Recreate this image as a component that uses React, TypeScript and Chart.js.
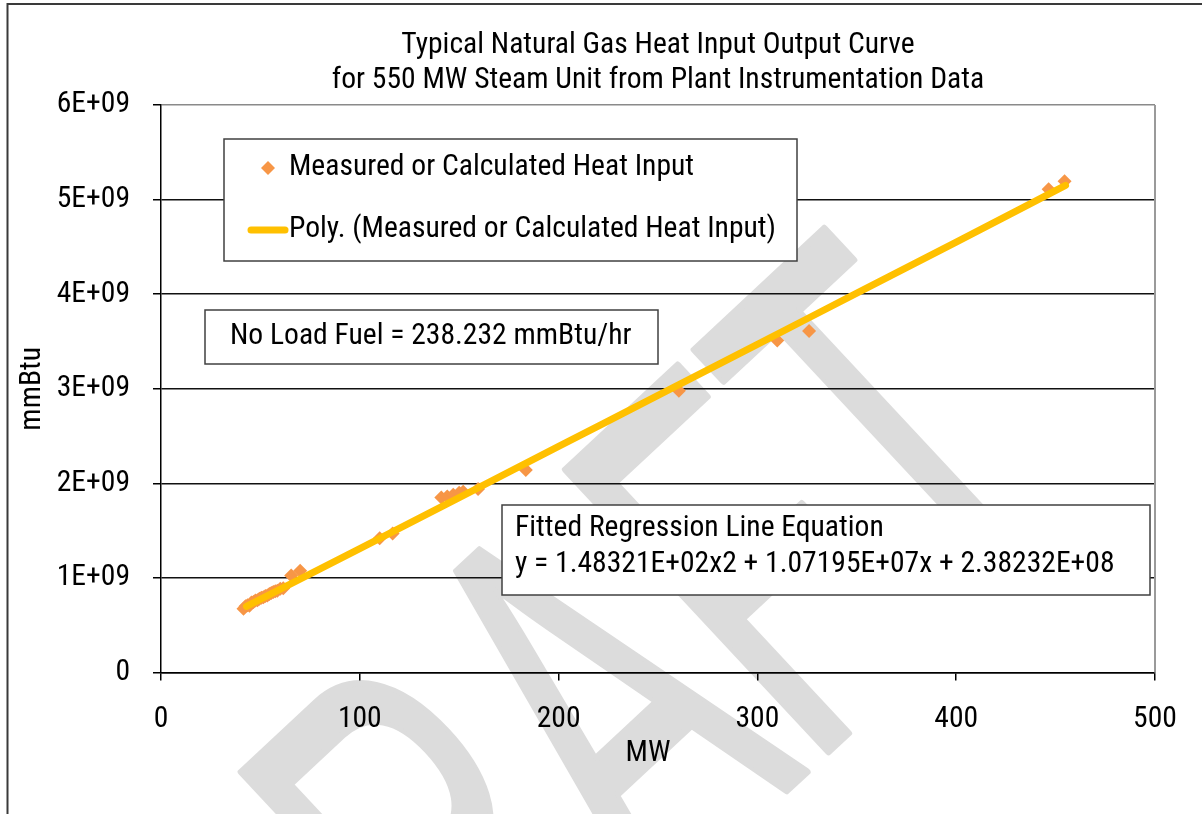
import React, { useEffect, useRef } from "react";
import { Chart, registerables } from "chart.js";

Chart.register(...registerables);

const FONT = "'Roboto Condensed', 'Liberation Sans Narrow', 'Arial Narrow', sans-serif";

const TITLE_LINES = [
  "Typical Natural Gas Heat Input Output Curve",
  "for 550 MW Steam Unit from Plant Instrumentation Data",
];
const X_AXIS_TITLE = "MW";
const Y_AXIS_TITLE = "mmBtu";

const X_TICKS = [0, 100, 200, 300, 400, 500];
const X_TICK_LABELS = ["0", "100", "200", "300", "400", "500"];
const Y_TICKS = [0, 1e9, 2e9, 3e9, 4e9, 5e9, 6e9];
const Y_TICK_LABELS = ["0", "1E+09", "2E+09", "3E+09", "4E+09", "5E+09", "6E+09"];

const SCATTER_LABEL = "Measured or Calculated Heat Input";
const TREND_LABEL = "Poly. (Measured or Calculated Heat Input)";

// Measured points (MW, mmBtu)
const MEASURED_MW = [
  41.5, 42.5, 43.5, 44.5, 45.5, 46.5, 47.5, 48.5, 49.5, 50.5, 51.5, 52.5, 53.5,
  54.5, 55.5, 56.5, 57.5, 58.5, 60, 61.5, 65.5, 70, 110, 116.5, 141, 144, 147,
  150, 152, 159.5, 183.5, 260.5, 310, 326, 446.5, 454.5,
];
const MEASURED_HEAT = [
  0.675e9, 0.7e9, 0.71e9, 0.705e9, 0.74e9, 0.745e9, 0.76e9, 0.765e9, 0.78e9,
  0.79e9, 0.795e9, 0.81e9, 0.815e9, 0.83e9, 0.84e9, 0.85e9, 0.86e9, 0.865e9,
  0.885e9, 0.89e9, 1.025e9, 1.075e9, 1.42e9, 1.47e9, 1.85e9, 1.86e9, 1.88e9,
  1.9e9, 1.91e9, 1.94e9, 2.14e9, 2.98e9, 3.51e9, 3.61e9, 5.11e9, 5.195e9,
];

// Polynomial trendline
const TREND_MW = [43, 100, 150, 200, 250, 300, 350, 400, 455];
const TREND_HEAT = [0.7e9, 1.31e9, 1.85e9, 2.39e9, 2.93e9, 3.47e9, 4.01e9, 4.55e9, 5.15e9];

const NO_LOAD_TEXT = "No Load Fuel = 238.232 mmBtu/hr";
const EQUATION_LINES = [
  "Fitted Regression Line Equation",
  "y = 1.48321E+02x2 + 1.07195E+07x + 2.38232E+08",
];
const WATERMARK = "DRAFT";

const SCATTER_COLOR = "#F79646";
const TREND_COLOR = "#FFC000";
const TEXT_SIZE = 29.6;

function boxRect(ctx: CanvasRenderingContext2D, x: number, y: number, w: number, h: number) {
  ctx.save();
  ctx.fillStyle = "#ffffff";
  ctx.fillRect(x, y, w, h);
  ctx.strokeStyle = "#404040";
  ctx.lineWidth = 1.5;
  ctx.strokeRect(x, y, w, h);
  ctx.restore();
}

const decorPlugin = {
  id: "decor",
  beforeDraw(chart: any) {
    const ctx: CanvasRenderingContext2D = chart.ctx;
    ctx.save();
    ctx.fillStyle = "#ffffff";
    ctx.fillRect(0, 0, chart.width, chart.height);

    // watermark (rotated, vertically stretched text)
    ctx.save();
    ctx.transform(0.753, -0.702, 1.232, 1.321, 315.5, 1229.8);
    ctx.font = "310px 'Liberation Sans', Arial, sans-serif";
    ctx.fillStyle = "#dcdcdc";
    ctx.strokeStyle = "#dcdcdc";
    ctx.lineWidth = 4;
    ctx.lineJoin = "round";
    ctx.textBaseline = "alphabetic";
    ctx.textAlign = "left";
    ctx.fillText(WATERMARK, 0, 0);
    ctx.strokeText(WATERMARK, 0, 0);
    ctx.restore();

    // outer frame
    ctx.strokeStyle = "#3a3a3a";
    ctx.lineWidth = 2;
    ctx.beginPath();
    ctx.moveTo(7.5, chart.height + 5);
    ctx.lineTo(7.5, 4);
    ctx.lineTo(chart.width + 5, 4);
    ctx.stroke();
    ctx.restore();
  },
  beforeDatasetsDraw(chart: any) {
    const ctx: CanvasRenderingContext2D = chart.ctx;
    const a = chart.chartArea;
    ctx.save();
    ctx.strokeStyle = "#9a9a9a";
    ctx.lineWidth = 2;
    ctx.beginPath();
    ctx.moveTo(a.right, a.top);
    ctx.lineTo(a.right, a.bottom);
    ctx.stroke();
    ctx.restore();
  },
  afterDraw(chart: any) {
    const ctx: CanvasRenderingContext2D = chart.ctx;
    const a = chart.chartArea;
    const ds = chart.data.datasets;
    ctx.save();
    ctx.font = `${TEXT_SIZE}px ${FONT}`;
    ctx.fillStyle = "#000";
    ctx.textBaseline = "middle";
    ctx.textAlign = "left";

    // legend
    boxRect(ctx, 224, 139, 573, 122);
    ctx.save();
    ctx.fillStyle = ds[0].backgroundColor;
    ctx.beginPath();
    ctx.moveTo(268, 161);
    ctx.lineTo(275, 168);
    ctx.lineTo(268, 175);
    ctx.lineTo(261, 168);
    ctx.closePath();
    ctx.fill();
    ctx.strokeStyle = ds[1].borderColor;
    ctx.lineWidth = 7;
    ctx.lineCap = "round";
    ctx.beginPath();
    ctx.moveTo(251, 230);
    ctx.lineTo(285, 230);
    ctx.stroke();
    ctx.restore();
    ctx.fillText(ds[0].label, 289, 168);
    ctx.fillText(ds[1].label, 289, 230);

    // no load box
    boxRect(ctx, 205, 310, 453, 54);
    ctx.fillText(NO_LOAD_TEXT, 230, 337);

    // equation box
    boxRect(ctx, 502, 505, 648, 90);
    ctx.fillText(EQUATION_LINES[0], 515, 529);
    ctx.fillText(EQUATION_LINES[1], 515, 565);

    // axis titles
    ctx.textAlign = "center";
    ctx.fillText(X_AXIS_TITLE, 648, 754);
    ctx.translate(33, (a.top + a.bottom) / 2);
    ctx.rotate(-Math.PI / 2);
    ctx.fillText(Y_AXIS_TITLE, 0, 0);
    ctx.restore();
  },
};

export default function App() {
  const ref = useRef<HTMLCanvasElement>(null);

  useEffect(() => {
    const canvas = ref.current;
    if (!canvas) return;
    const chart = new Chart(canvas, {
      data: {
        datasets: [
          {
            type: "scatter",
            label: SCATTER_LABEL,
            data: MEASURED_MW.map((x, i) => ({ x, y: MEASURED_HEAT[i] })),
            pointStyle: "rectRot",
            pointRadius: 7,
            pointHoverRadius: 7,
            backgroundColor: SCATTER_COLOR,
            borderColor: SCATTER_COLOR,
            borderWidth: 0,
            order: 2,
          },
          {
            type: "line",
            label: TREND_LABEL,
            data: TREND_MW.map((x, i) => ({ x, y: TREND_HEAT[i] })),
            borderColor: TREND_COLOR,
            backgroundColor: TREND_COLOR,
            borderWidth: 7,
            borderCapStyle: "round",
            borderJoinStyle: "round",
            pointRadius: 0,
            fill: false,
            cubicInterpolationMode: "monotone",
            order: 1,
          },
        ],
      } as any,
      options: {
        animation: false,
        responsive: false,
        devicePixelRatio: 1,
        layout: { padding: { top: 0, left: 0, right: 47, bottom: 0 } },
        font: { family: FONT },
        plugins: {
          legend: { display: false },
          tooltip: { enabled: false },
          title: {
            display: true,
            fullSize: false,
            text: TITLE_LINES,
            color: "#000",
            font: { family: FONT, size: TEXT_SIZE, weight: "normal", lineHeight: 35 / TEXT_SIZE },
            padding: { top: 28.5, bottom: 6.5 },
          },
        },
        scales: {
          x: {
            type: "linear",
            min: 0,
            max: 500,
            afterFit: (s: any) => {
              s.height = 141.5;
            },
            afterBuildTicks: (s: any) => {
              s.ticks = X_TICKS.map((v) => ({ value: v }));
            },
            ticks: {
              autoSkip: false,
              maxRotation: 0,
              color: "#000",
              padding: 21,
              font: { family: FONT, size: TEXT_SIZE, lineHeight: 1.2 },
              callback: (v: any) => X_TICK_LABELS[X_TICKS.indexOf(Number(v))] ?? "",
            },
            grid: {
              drawOnChartArea: false,
              drawTicks: true,
              tickLength: 8,
              color: "#000",
              lineWidth: 1.5,
            },
            border: { color: "#000", width: 1.5 },
          },
          y: {
            type: "linear",
            min: 0,
            max: 6e9,
            afterFit: (s: any) => {
              s.width = 161;
            },
            afterBuildTicks: (s: any) => {
              s.ticks = Y_TICKS.map((v) => ({ value: v }));
            },
            ticks: {
              autoSkip: false,
              color: "#000",
              padding: 23,
              font: { family: FONT, size: TEXT_SIZE },
              callback: (v: any) => Y_TICK_LABELS[Y_TICKS.indexOf(Number(v))] ?? "",
            },
            grid: {
              drawOnChartArea: true,
              drawTicks: true,
              tickLength: 8,
              color: (c: any) => (c.tick && c.tick.value === 6e9 ? "#8a8a8a" : "#111"),
              tickColor: "#000",
              lineWidth: 1.5,
            },
            border: { color: "#000", width: 1.5 },
          },
        },
      } as any,
      plugins: [decorPlugin],
    });
    return () => chart.destroy();
  }, []);

  return (
    <div
      style={{
        position: "absolute",
        left: 0,
        top: 0,
        width: 1202,
        height: 814,
        background: "#fff",
        overflow: "hidden",
      }}
    >
      <canvas ref={ref} width={1202} height={814} style={{ display: "block", width: 1202, height: 814 }} />
    </div>
  );
}
